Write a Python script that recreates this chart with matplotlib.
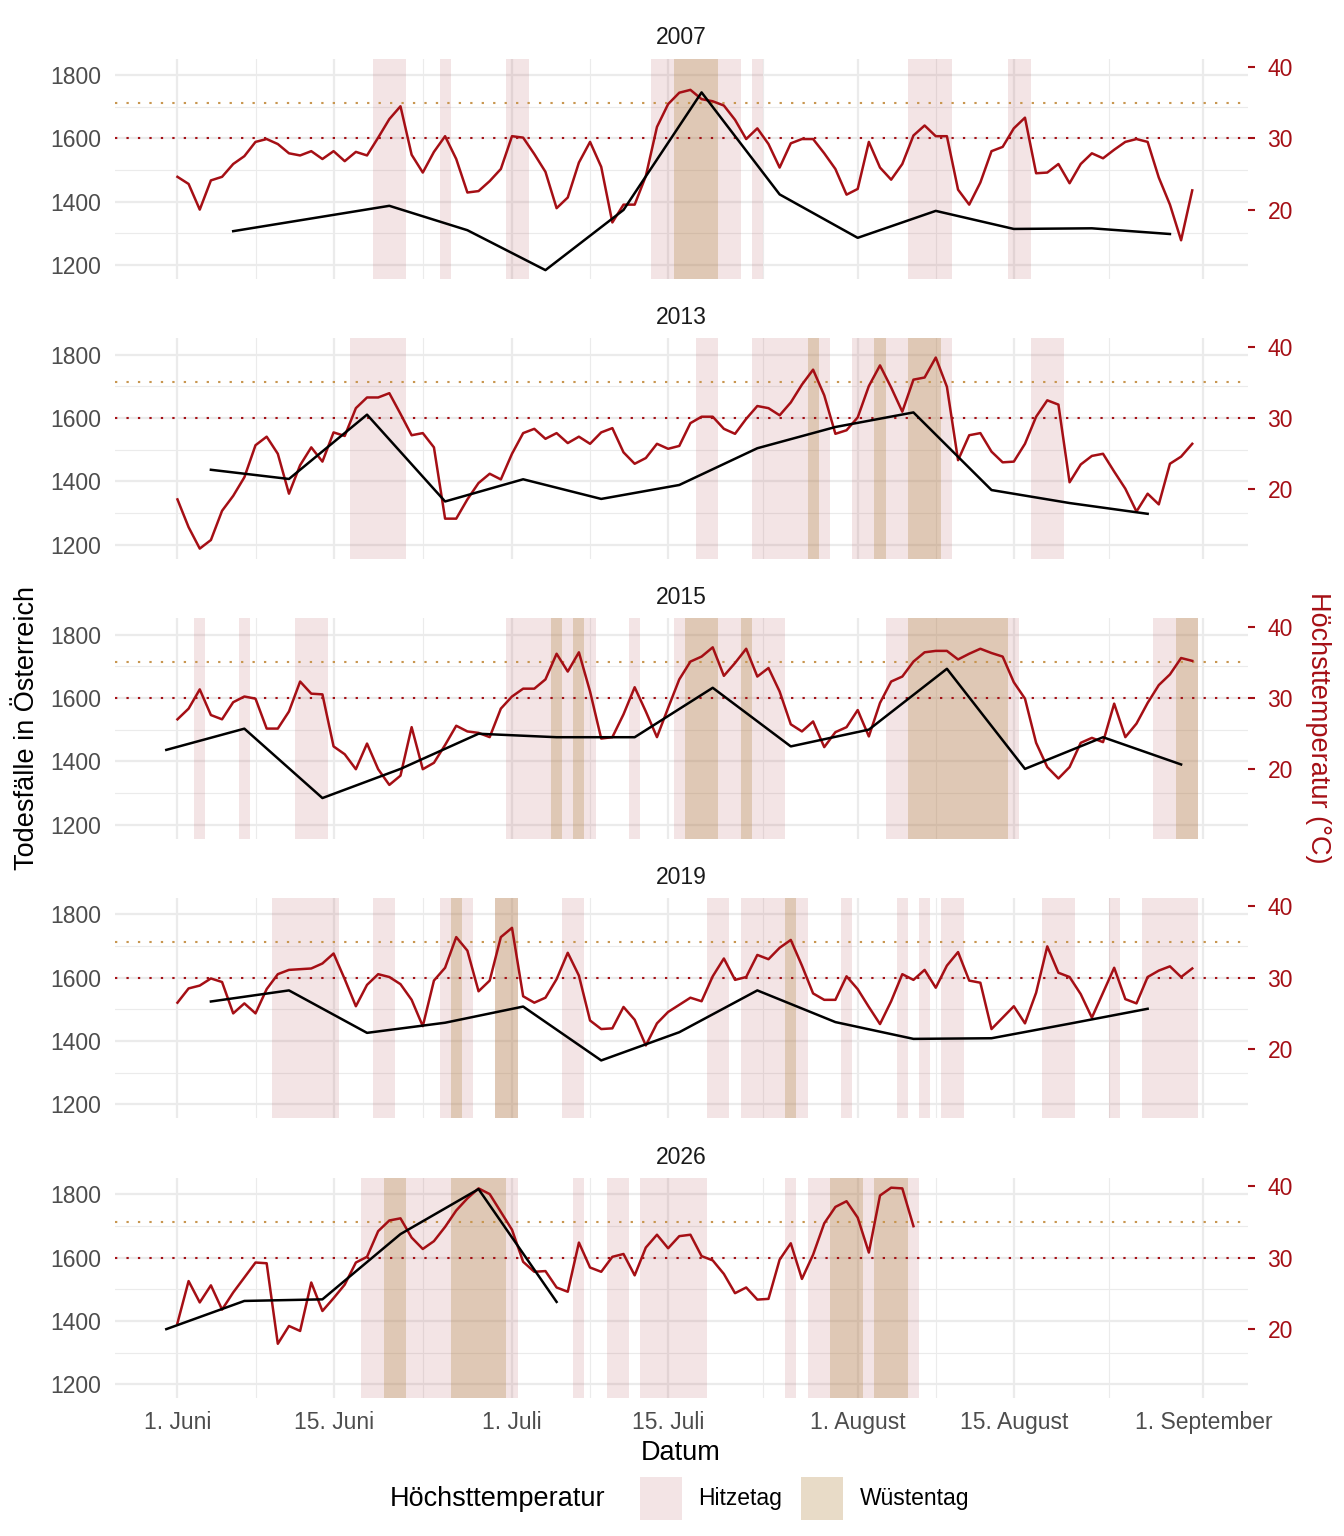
import numpy as np
import matplotlib.pyplot as plt
from matplotlib.patches import Rectangle

plt.rcParams['font.family'] = ['Liberation Sans', 'DejaVu Sans']

# Tage ab 1. Juni, Höchsttemperatur in °C
years = ['2007', '2013', '2015', '2019', '2026']

temp_2007 = [24.6, 23.6, 20.0, 24.1, 24.6, 26.4, 27.5, 29.5, 29.9, 29.2,
             27.9, 27.6, 28.2, 27.1, 28.2, 26.8, 28.1, 27.6, 30.1, 32.7,
             34.5, 27.7, 25.2, 28.1, 30.3, 27.1, 22.4, 22.6, 24.0, 25.7,
             30.3, 30.1, 27.8, 25.3, 20.2, 21.7, 26.6, 29.5, 26.0, 18.2,
             20.7, 20.7, 24.7, 31.6, 34.8, 36.4, 36.8, 35.5, 35.2, 34.6,
             32.6, 29.9, 31.4, 29.2, 25.9, 29.3, 29.9, 29.9, 27.9, 25.7,
             22.1, 22.9, 29.5, 25.9, 24.2, 26.4, 30.4, 31.8, 30.3, 30.3,
             22.8, 20.7, 23.8, 28.2, 28.8, 31.4, 32.9, 25.1, 25.2, 26.4,
             23.7, 26.4, 27.9, 27.2, 28.4, 29.5, 29.9, 29.5, 24.5, 20.7,
             15.7, 22.7]
temp_2013 = [18.6, 14.7, 11.7, 12.9, 17.0, 19.1, 21.7, 26.2, 27.4, 25.0,
             19.4, 23.4, 25.9, 23.9, 28.0, 27.5, 31.4, 32.9, 32.9, 33.5,
             30.6, 27.6, 27.9, 25.9, 15.9, 15.9, 18.6, 20.9, 22.2, 21.4,
             25.0, 27.9, 28.5, 27.1, 27.9, 26.5, 27.4, 26.4, 28.0, 28.6,
             25.2, 23.6, 24.4, 26.4, 25.7, 26.1, 29.3, 30.2, 30.2, 28.5,
             27.8, 29.9, 31.7, 31.4, 30.4, 32.2, 34.7, 36.8, 33.2, 27.8,
             28.3, 30.1, 34.5, 37.4, 34.3, 30.9, 35.4, 35.7, 38.5, 34.4,
             24.1, 27.6, 27.9, 25.3, 23.8, 23.9, 26.4, 30.2, 32.5, 31.9,
             21.0, 23.5, 24.7, 25.0, 22.5, 20.1, 16.9, 19.4, 17.9, 23.6,
             24.6, 26.4]
temp_2015 = [27.0, 28.5, 31.2, 27.6, 27.0, 29.4, 30.2, 29.9, 25.7, 25.7,
             28.1, 32.3, 30.6, 30.5, 23.2, 22.1, 20.0, 23.6, 20.0, 17.8,
             19.1, 25.9, 20.0, 20.9, 23.4, 26.1, 25.3, 25.1, 24.5, 28.5,
             30.2, 31.3, 31.3, 32.6, 36.2, 33.7, 36.4, 30.9, 24.3, 24.5,
             27.7, 31.5, 28.1, 24.5, 28.6, 32.6, 35.1, 35.8, 37.1, 33.1,
             34.9, 36.9, 33.0, 34.2, 30.9, 26.3, 25.3, 26.7, 23.1, 25.2,
             25.9, 28.3, 24.6, 29.3, 32.3, 33.0, 35.1, 36.4, 36.6, 36.6,
             35.4, 36.2, 36.9, 36.3, 35.8, 32.2, 29.9, 23.7, 20.3, 18.7,
             20.3, 23.7, 24.4, 23.8, 29.2, 24.5, 26.4, 29.3, 31.8, 33.3,
             35.6, 35.2]
temp_2019 = [26.5, 28.5, 28.9, 29.9, 29.4, 25.0, 26.4, 25.0, 28.4, 30.5,
             31.1, 31.2, 31.3, 32.0, 33.4, 29.8, 26.0, 29.0, 30.5, 30.1,
             29.1, 26.9, 23.2, 29.6, 31.4, 35.7, 33.8, 28.1, 29.6, 35.7,
             37.0, 27.4, 26.5, 27.2, 29.8, 33.5, 30.3, 24.0, 22.8, 22.9,
             25.9, 24.1, 20.5, 23.6, 25.2, 26.2, 27.2, 26.7, 30.2, 32.7,
             29.7, 30.1, 33.2, 32.6, 34.2, 35.3, 31.7, 27.8, 26.9, 26.9,
             30.2, 28.4, 25.9, 23.5, 26.7, 30.5, 29.7, 31.1, 28.6, 31.7,
             33.6, 29.6, 29.3, 22.8, 24.4, 26.0, 23.6, 27.9, 34.4, 30.7,
             30.1, 27.7, 24.4, 27.9, 31.4, 27.0, 26.4, 30.1, 31.0, 31.6,
             30.1, 31.3]
temp_2026 = [20.8, 26.7, 23.7, 26.1, 22.7, 25.1, 27.2, 29.3, 29.2, 17.9,
             20.4, 19.7, 26.5, 22.5, 24.3, 26.2, 29.3, 30.1, 33.7, 35.2,
             35.5, 32.8, 31.2, 32.3, 34.3, 36.6, 38.3, 39.7, 38.9, 36.4,
             33.9, 29.4, 28.0, 28.1, 25.8, 25.2, 32.1, 28.6, 28.0, 30.1,
             30.5, 27.5, 31.4, 33.2, 31.3, 33.0, 33.2, 30.2, 29.6, 27.7,
             25.0, 25.8, 24.1, 24.2, 29.7, 32.0, 27.0, 30.4, 34.8, 37.1,
             37.9, 35.6, 30.7, 38.7, 39.8, 39.7, 34.4]

# Todesfälle pro Woche (Tag ab 1. Juni der Wochenmitte)
deaths_day_2007 = [5, 19, 26, 33, 40, 47, 54, 61, 68, 75, 82, 89]
deaths_2007 = [1307, 1387, 1310, 1184, 1374, 1745, 1423, 1286, 1371, 1314, 1316, 1298]
deaths_day_2013 = [3, 10, 17, 24, 31, 38, 45, 52, 59, 66, 73, 80, 87]
deaths_2013 = [1437, 1408, 1611, 1337, 1407, 1345, 1389, 1505, 1572, 1618, 1373, 1332, 1298]
deaths_day_2015 = [-1, 6, 13, 20, 27, 34, 41, 48, 55, 62, 69, 76, 83, 90]
deaths_2015 = [1436, 1503, 1284, 1376, 1487, 1476, 1476, 1632, 1447, 1500, 1692, 1376, 1476, 1390]
deaths_day_2019 = [3, 10, 17, 24, 31, 38, 45, 52, 59, 66, 73, 80, 87]
deaths_2019 = [1525, 1560, 1426, 1458, 1509, 1339, 1428, 1560, 1460, 1407, 1409, 1455, 1502]
deaths_day_2026 = [-1, 6, 13, 20, 27, 34]
deaths_2026 = [1374, 1463, 1468, 1674, 1816, 1460]

temps = [temp_2007, temp_2013, temp_2015, temp_2019, temp_2026]
death_days = [deaths_day_2007, deaths_day_2013, deaths_day_2015, deaths_day_2019, deaths_day_2026]
deaths = [deaths_2007, deaths_2013, deaths_2015, deaths_2019, deaths_2026]

tick_days = [0, 14, 30, 44, 61, 75, 92]
tick_labels = ['1. Juni', '15. Juni', '1. Juli', '15. Juli', '1. August', '15. August', '1. September']

RED = '#A50F15'
HITZE = (0.69, 0.29, 0.32, 0.15)
WUESTE = (0.70, 0.54, 0.28, 0.30)
GRID = '#EBEBEB'


def t2d(t):
    return np.asarray(t) * 22.5 + 925


def d2t(d):
    return (np.asarray(d) - 925) / 22.5


def runs(mask):
    # zusammenhängende Tage als (start, ende)
    out = []
    start = None
    for i, m in enumerate(mask):
        if m and start is None:
            start = i
        if not m and start is not None:
            out.append((start, i - 1))
            start = None
    if start is not None:
        out.append((start, len(mask) - 1))
    return out


W, H = 1344, 1536
fig = plt.figure(figsize=(W / 100, H / 100), dpi=100)

left, right = 115, 1248
ph = 220.5
minor_days = [(a + b) / 2 for a, b in zip(tick_days[:-1], tick_days[1:])]
dots = (0, (1.1, 4.4))

for i, year in enumerate(years):
    top = 58.5 + 279.8 * i
    ax = fig.add_axes([left / W, 1 - (top + ph) / H, (right - left) / W, ph / H])
    ax.set_xlim(-5.6, 96.0)
    ax.set_ylim(1156, 1852)
    for s in ax.spines.values():
        s.set_visible(False)
    ax.set_axisbelow(True)

    ax.set_yticks([1200, 1400, 1600, 1800])
    ax.set_yticks([1300, 1500, 1700], minor=True)
    ax.set_xticks(tick_days)
    ax.set_xticks(minor_days, minor=True)
    ax.grid(which='major', color=GRID, lw=1.6)
    ax.grid(which='minor', color=GRID, lw=0.8)
    ax.tick_params(which='both', length=0)
    ax.tick_params(axis='y', labelsize=16.5, labelcolor='#4D4D4D', pad=10)
    if i == len(years) - 1:
        ax.set_xticklabels(tick_labels)
        ax.tick_params(axis='x', labelsize=16.5, labelcolor='#4D4D4D', pad=9)
    else:
        ax.set_xticklabels([])

    t = np.array(temps[i])
    days = np.arange(len(t))
    for a, b in runs(t >= 30):
        ax.axvspan(a - 0.5, b + 0.5, color=HITZE, lw=0, zorder=1)
    for a, b in runs(t >= 35):
        ax.axvspan(a - 0.5, b + 0.5, color=WUESTE, lw=0, zorder=1.1)

    ax.axhline(t2d(30), color=RED, lw=1.5, ls=dots, zorder=2)
    ax.axhline(t2d(35), color='#C8964F', lw=1.5, ls=dots, zorder=2)

    ax.plot(days, t2d(t), color=RED, lw=1.8, zorder=3)
    ax.plot(death_days[i], deaths[i], color='black', lw=1.8, zorder=4)

    sec = ax.secondary_yaxis('right', functions=(d2t, t2d))
    sec.set_yticks([20, 30, 40])
    sec.spines['right'].set_visible(False)
    sec.tick_params(colors=RED, length=5, width=1.5, labelsize=16.5, pad=9)

    fig.text((left + right) / 2 / W, 1 - (top - 20.5) / H, year,
             ha='center', va='center', fontsize=16.5, color='#1A1A1A')

fig.text(681 / W, 1 - 1453 / H, 'Datum', ha='center', va='center', fontsize=19.5)
fig.text(27 / W, 1 - 728 / H, 'Todesfälle in Österreich', rotation=90,
         ha='center', va='center', fontsize=19.5)
fig.text(1318 / W, 1 - 728 / H, 'Höchsttemperatur (°C)', rotation=270,
         ha='center', va='center', fontsize=19.5, color=RED)

# Legende
fig.text(390 / W, 1 - 1499 / H, 'Höchsttemperatur', ha='left', va='center', fontsize=19.5)
fig.add_artist(Rectangle((640 / W, 1 - 1520 / H), 42 / W, 43 / H,
                         transform=fig.transFigure, facecolor=HITZE, lw=0))
fig.text(698 / W, 1 - 1499 / H, 'Hitzetag', ha='left', va='center', fontsize=16.5)
fig.add_artist(Rectangle((801 / W, 1 - 1520 / H), 42 / W, 43 / H,
                         transform=fig.transFigure, facecolor=WUESTE, lw=0))
fig.text(860 / W, 1 - 1499 / H, 'Wüstentag', ha='left', va='center', fontsize=16.5)

fig.savefig('out.png', dpi=100, facecolor='white')
